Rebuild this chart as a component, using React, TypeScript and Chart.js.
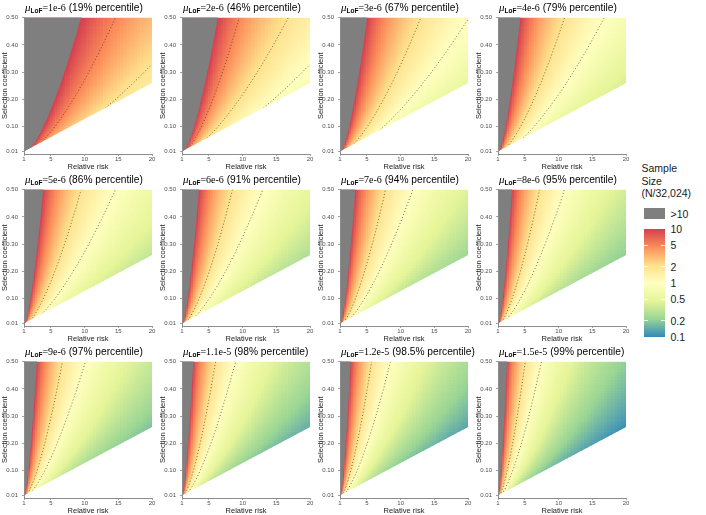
import React, { useEffect, useRef } from 'react';
import { Chart, registerables } from 'chart.js';

Chart.register(...registerables);

// ---------------- data ----------------
const MU_LABELS = ['1e-6', '2e-6', '3e-6', '4e-6', '5e-6', '6e-6', '7e-6', '8e-6', '9e-6', '1.1e-5', '1.2e-5', '1.5e-5'];
const MU_VALUES = [1e-6, 2e-6, 3e-6, 4e-6, 5e-6, 6e-6, 7e-6, 8e-6, 9e-6, 1.1e-5, 1.2e-5, 1.5e-5];
const PERCENTILES = ['19%', '46%', '67%', '79%', '86%', '91%', '94%', '95%', '97%', '98%', '98.5%', '99%'];

// Relative-risk grid and the sample size (N/32,024) along s = 0.50 for mu = 1e-6
const RR_NODES = [1, 1.25, 1.5, 1.75, 2, 2.25, 2.5, 2.75, 3, 3.25, 3.5, 3.75, 4, 4.25, 4.5, 4.75, 5,
  5.25, 5.5, 5.75, 6, 6.25, 6.5, 6.75, 7, 7.25, 7.5, 7.75, 8, 8.25, 8.5, 8.75, 9, 9.25, 9.5, 9.75, 10,
  10.5, 11, 11.5, 12, 12.5, 13, 13.5, 14, 14.5, 15, 15.5, 16, 16.5, 17, 17.5, 18, 18.5, 19, 19.5, 20];
const N_TOP_MU1 = [50000, 1845, 662, 363, 237, 170, 130, 104, 85.0, 71.4, 61.1, 53.1, 46.7, 41.4, 37.1, 33.5, 30.5,
  27.9, 25.6, 23.6, 21.9, 20.4, 19.0, 17.8, 16.7, 15.7, 14.9, 14.0, 13.3, 12.6, 12.0, 11.5, 10.9, 10.4, 9.99, 9.57, 9.18,
  8.47, 7.85, 7.31, 6.82, 6.39, 6.00, 5.64, 5.33, 5.04, 4.77, 4.53, 4.31, 4.11, 3.92, 3.74, 3.58, 3.43, 3.29, 3.16, 3.04];

// Selection-coefficient grid and the relative sample size (1 at s = 0.50)
const S_NODES = [0.01, 0.02, 0.03, 0.04, 0.05, 0.06, 0.07, 0.08, 0.09, 0.10, 0.11, 0.12, 0.13, 0.14, 0.15, 0.16, 0.17,
  0.18, 0.19, 0.20, 0.21, 0.22, 0.23, 0.24, 0.25, 0.26, 0.27, 0.28, 0.29, 0.30, 0.31, 0.32, 0.33, 0.34, 0.35, 0.36,
  0.37, 0.38, 0.39, 0.40, 0.41, 0.42, 0.43, 0.44, 0.45, 0.46, 0.47, 0.48, 0.49, 0.50];
const S_REL = [0.02, 0.04, 0.06, 0.08, 0.10, 0.12, 0.14, 0.16, 0.18, 0.20, 0.22, 0.24, 0.26, 0.28, 0.30, 0.32, 0.34,
  0.36, 0.38, 0.40, 0.42, 0.44, 0.46, 0.48, 0.50, 0.52, 0.54, 0.56, 0.58, 0.60, 0.62, 0.64, 0.66, 0.68, 0.70, 0.72,
  0.74, 0.76, 0.78, 0.80, 0.82, 0.84, 0.86, 0.88, 0.90, 0.92, 0.94, 0.96, 0.98, 1.00];

// lower edge of the feasible region
const LOWER_EDGE_RR = [1, 20];
const LOWER_EDGE_S = [0.01, 0.26];

// dotted contour levels drawn in each panel
const CONTOUR_LEVELS = [[5, 2], [5, 2, 1], [2, 1], [2, 1], [2, 1], [2, 1], [2, 1], [2, 1], [2, 1], [2, 1], [2, 1], [2, 1]];

const X_TICKS = [1, 5, 10, 15, 20];
const Y_TICKS = [0.01, 0.1, 0.2, 0.3, 0.4, 0.5];
const Y_TICK_LABELS = ['0.01', '0.10', '0.20', '0.30', '0.40', '0.50'];

const LEGEND_BREAKS = [10, 5, 2, 1, 0.5, 0.2, 0.1];
const LEGEND_LABELS = ['10', '5', '2', '1', '0.5', '0.2', '0.1'];
const PALETTE = ['#3288BD', '#99D594', '#E6F598', '#FFFFBF', '#FEE08B', '#FC8D59', '#D53E4F']; // low -> high
const OVER_COLOR = '#7F7F7F';

// ---------------- layout ----------------
const SANS = '"Liberation Sans", Arial, Helvetica, sans-serif';
const SERIF = '"Liberation Serif", "Times New Roman", serif';
const CANVAS_LEFT = [0, 158, 316, 474];
const CANVAS_TOP = [10, 182, 354];
const CANVAS_W = 158;
const CANVAS_H = 161;
const Y_AXIS_W = 24;
const X_AXIS_H = 17;
const PAD_TOP = 5;
const PAD_RIGHT = 6;

// ---------------- helpers ----------------
function hexToRgb(h: string) {
  const n = parseInt(h.slice(1), 16);
  return [(n >> 16) & 255, (n >> 8) & 255, n & 255];
}
const PAL_RGB = PALETTE.map(hexToRgb);
const LOG_MIN = Math.log10(LEGEND_BREAKS[LEGEND_BREAKS.length - 1]);
const LOG_MAX = Math.log10(LEGEND_BREAKS[0]);

function colorFor(v: number) {
  let t = (Math.log10(v) - LOG_MIN) / (LOG_MAX - LOG_MIN);
  t = Math.max(0, Math.min(1, t));
  const p = t * (PAL_RGB.length - 1);
  const i = Math.min(Math.floor(p), PAL_RGB.length - 2);
  const f = p - i;
  const a = PAL_RGB[i];
  const b = PAL_RGB[i + 1];
  return `rgb(${Math.round(a[0] + (b[0] - a[0]) * f)},${Math.round(a[1] + (b[1] - a[1]) * f)},${Math.round(a[2] + (b[2] - a[2]) * f)})`;
}

function sForRel(rel: number) {
  const n = S_REL.length;
  let i = 0;
  if (rel >= S_REL[n - 1]) i = n - 2;
  else if (rel > S_REL[0]) {
    while (i < n - 2 && S_REL[i + 1] < rel) i++;
  }
  const t = (rel - S_REL[i]) / (S_REL[i + 1] - S_REL[i]);
  return S_NODES[i] + t * (S_NODES[i + 1] - S_NODES[i]);
}

function contourPoints(level: number, k: number) {
  const m = MU_VALUES[k] / MU_VALUES[0];
  const pts: { x: number; y: number }[] = [];
  for (let j = 1; j < RR_NODES.length; j++) {
    const s = sForRel((level * m) / N_TOP_MU1[j]);
    pts.push({ x: RR_NODES[j], y: s });
    if (s > 0.5) break;
  }
  return pts;
}

const heatmapPlugin = {
  id: 'heatmap',
  beforeDatasetsDraw(chart: any, _args: any, opts: any) {
    const { ctx } = chart;
    const xs = chart.scales.x;
    const ys = chart.scales.y;
    const k = opts.panel as number;
    ctx.save();
    ctx.beginPath();
    ctx.moveTo(xs.getPixelForValue(LOWER_EDGE_RR[0]), ys.getPixelForValue(LOWER_EDGE_S[0]));
    ctx.lineTo(xs.getPixelForValue(LOWER_EDGE_RR[1]), ys.getPixelForValue(LOWER_EDGE_S[1]));
    ctx.lineTo(xs.getPixelForValue(xs.max), ys.getPixelForValue(ys.max));
    ctx.lineTo(xs.getPixelForValue(xs.min), ys.getPixelForValue(ys.max));
    ctx.closePath();
    ctx.clip();

    const factor = MU_VALUES[0] / MU_VALUES[k];
    const nx = RR_NODES.length;
    const ny = S_NODES.length;
    const xEdges: number[] = [RR_NODES[0]];
    for (let j = 0; j < nx - 1; j++) xEdges.push((RR_NODES[j] + RR_NODES[j + 1]) / 2);
    xEdges.push(RR_NODES[nx - 1]);
    const yEdges: number[] = [S_NODES[0] - (S_NODES[1] - S_NODES[0]) / 2];
    for (let i = 0; i < ny - 1; i++) yEdges.push((S_NODES[i] + S_NODES[i + 1]) / 2);
    yEdges.push(S_NODES[ny - 1]);
    const px = xEdges.map((v) => xs.getPixelForValue(v));
    const py = yEdges.map((v) => ys.getPixelForValue(v));

    for (let j = 0; j < nx; j++) {
      for (let i = 0; i < ny; i++) {
        const v = N_TOP_MU1[j] * S_REL[i] * factor;
        ctx.fillStyle = colorFor(v);
        ctx.fillRect(px[j], py[i + 1], px[j + 1] - px[j] + 0.6, py[i] - py[i + 1] + 0.6);
      }
    }

    // region above the top break (> 10) in grey, bounded by its contour
    const outline = contourPoints(LEGEND_BREAKS[0], k);
    const lastRR = outline.length ? outline[outline.length - 1].x : xs.max;
    ctx.beginPath();
    ctx.moveTo(xs.getPixelForValue(xs.min), ys.getPixelForValue(ys.min));
    outline.forEach((p) => ctx.lineTo(xs.getPixelForValue(p.x), ys.getPixelForValue(p.y)));
    ctx.lineTo(xs.getPixelForValue(lastRR), ys.getPixelForValue(ys.max) - 20);
    ctx.lineTo(xs.getPixelForValue(xs.min), ys.getPixelForValue(ys.max) - 20);
    ctx.closePath();
    ctx.fillStyle = OVER_COLOR;
    ctx.fill();
  },
  afterDatasetsDraw(chart: any) {
    chart.ctx.restore();
  },
};

function Panel({ k }: { k: number }) {
  const ref = useRef<HTMLCanvasElement>(null);
  useEffect(() => {
    const levels = CONTOUR_LEVELS[k];
    const chart = new Chart(ref.current as HTMLCanvasElement, {
      type: 'scatter',
      data: {
        datasets: levels.map((L) => ({
          data: contourPoints(L, k),
          showLine: true,
          pointRadius: 0,
          borderColor: 'rgba(40,40,40,0.85)',
          borderWidth: 0.8,
          borderDash: [1, 2.2],
          fill: false,
          tension: 0,
        })),
      },
      options: {
        responsive: false,
        animation: false,
        devicePixelRatio: 1,
        events: [],
        layout: { padding: { top: PAD_TOP, right: PAD_RIGHT, left: 0, bottom: 0 } },
        plugins: {
          legend: { display: false },
          tooltip: { enabled: false },
          heatmap: { panel: k },
        } as any,
        scales: {
          x: {
            type: 'linear',
            min: X_TICKS[0],
            max: X_TICKS[X_TICKS.length - 1],
            afterBuildTicks: (s: any) => {
              s.ticks = X_TICKS.map((v) => ({ value: v }));
            },
            afterFit: (s: any) => {
              s.height = X_AXIS_H;
            },
            ticks: {
              autoSkip: false,
              maxRotation: 0,
              padding: 0,
              font: { size: 6, family: SANS },
              color: '#4D4D4D',
              callback: (v: any) => String(v),
            },
            grid: { display: true, drawOnChartArea: false, drawTicks: true, tickLength: 2, color: '#8C8C8C', lineWidth: 0.8 },
            border: { display: true, color: '#8C8C8C', width: 1, z: 1 },
            title: { display: true, text: 'Relative risk', font: { size: 7.5, family: SANS }, color: '#1A1A1A', padding: { top: 0, bottom: 0 } },
          },
          y: {
            type: 'linear',
            min: 0,
            max: Y_TICKS[Y_TICKS.length - 1],
            afterBuildTicks: (s: any) => {
              s.ticks = Y_TICKS.map((v) => ({ value: v }));
            },
            afterFit: (s: any) => {
              s.width = Y_AXIS_W;
            },
            ticks: {
              autoSkip: false,
              padding: 4,
              font: { size: 6, family: SANS },
              color: '#4D4D4D',
              callback: (_v: any, i: number) => Y_TICK_LABELS[i],
            },
            grid: { display: true, drawOnChartArea: false, drawTicks: true, tickLength: 2, color: '#8C8C8C', lineWidth: 0.8 },
            border: { display: true, color: '#8C8C8C', width: 1, z: 1 },
            title: { display: true, text: 'Selection coefficient', font: { size: 7.5, family: SANS }, color: '#1A1A1A', padding: { top: 0.5, bottom: 0 } },
          },
        },
      } as any,
      plugins: [heatmapPlugin as any],
    });
    return () => chart.destroy();
  }, [k]);
  const col = k % 4;
  const row = Math.floor(k / 4);
  return (
    <canvas
      ref={ref}
      width={CANVAS_W}
      height={CANVAS_H}
      style={{ position: 'absolute', left: CANVAS_LEFT[col], top: CANVAS_TOP[row], width: CANVAS_W, height: CANVAS_H }}
    />
  );
}

function PanelTitle({ k }: { k: number }) {
  const col = k % 4;
  const row = Math.floor(k / 4);
  const left = CANVAS_LEFT[col] + Y_AXIS_W + 1;
  const top = CANVAS_TOP[row] + PAD_TOP - 15;
  return (
    <div
      style={{
        position: 'absolute',
        left,
        top,
        whiteSpace: 'nowrap',
        fontFamily: SANS,
        fontSize: 10.2,
        lineHeight: '14px',
        color: '#000',
      }}
    >
      <span style={{ fontFamily: SERIF, fontStyle: 'italic', fontSize: 11 }}>μ</span>
      <span style={{ fontSize: 6.5, fontWeight: 'bold', position: 'relative', top: 2 }}>LoF</span>
      <span style={{ fontFamily: SERIF, fontSize: 10 }}>={MU_LABELS[k]}</span>
      <span>{' (' + PERCENTILES[k] + ' percentile)'}</span>
    </div>
  );
}

function Legend() {
  const barTop = 229;
  const barH = 108;
  const barLeft = 644;
  const barW = 21;
  const grad = 'linear-gradient(to bottom, ' + PALETTE.slice().reverse().map((c, i) => `${c} ${(i / (PALETTE.length - 1)) * 100}%`).join(', ') + ')';
  const yFor = (v: number) => barTop + ((LOG_MAX - Math.log10(v)) / (LOG_MAX - LOG_MIN)) * barH;
  const txt: React.CSSProperties = { position: 'absolute', fontFamily: SANS, fontSize: 10.5, color: '#1A1A1A', whiteSpace: 'nowrap', lineHeight: '12px' };
  return (
    <>
      <div style={{ ...txt, left: 641.5, top: 162, lineHeight: '12.5px' }}>
        Sample<br />Size<br />(N/32,024)
      </div>
      <div style={{ position: 'absolute', left: barLeft, top: 208, width: barW, height: 11, background: OVER_COLOR }} />
      <div style={{ ...txt, left: 670.5, top: 208 }}>&gt;10</div>
      <div style={{ position: 'absolute', left: barLeft, top: barTop, width: barW, height: barH, background: grad }} />
      {LEGEND_BREAKS.map((b, i) => (
        <React.Fragment key={i}>
          {i > 0 && i < LEGEND_BREAKS.length - 1 && (
            <>
              <div style={{ position: 'absolute', left: barLeft, top: yFor(b) - 0.5, width: 4, height: 1, background: 'rgba(255,255,255,0.8)' }} />
              <div style={{ position: 'absolute', left: barLeft + barW - 4, top: yFor(b) - 0.5, width: 4, height: 1, background: 'rgba(255,255,255,0.8)' }} />
            </>
          )}
          <div style={{ ...txt, left: 670.5, top: yFor(b) - 6 }}>{LEGEND_LABELS[i]}</div>
        </React.Fragment>
      ))}
    </>
  );
}

export default function App() {
  const ids = MU_VALUES.map((_, i) => i);
  return (
    <div style={{ position: 'absolute', left: 0, top: 0, width: 706, height: 515, background: '#fff', overflow: 'hidden' }}>
      {ids.map((k) => (
        <Panel key={'p' + k} k={k} />
      ))}
      {ids.map((k) => (
        <PanelTitle key={'t' + k} k={k} />
      ))}
      <Legend />
    </div>
  );
}
